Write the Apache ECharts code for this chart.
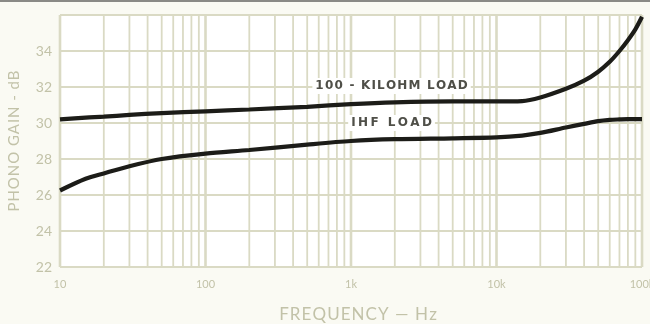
<!DOCTYPE html>
<html>
<head>
<meta charset="utf-8">
<script src="https://cdn.jsdelivr.net/npm/echarts@6/dist/echarts.min.js"></script>
<style>
  html, body { margin: 0; padding: 0; background: #fafaf3; }
  #chart { width: 650px; height: 324px; }
</style>
</head>
<body>
<div id="chart"></div>
<script>
// Frequency points (Hz) at which the response curves are sampled
const freqs = [10, 15, 20, 30, 50, 100, 200, 500, 1000, 2000, 5000, 10000, 15000, 20000, 30000, 40000, 50000, 60000, 70000, 80000, 90000, 100000];
// Phono gain (dB) into a 100-kilohm load
const gain100k = [30.2, 30.3, 30.35, 30.45, 30.55, 30.65, 30.75, 30.9, 31.05, 31.15, 31.2, 31.2, 31.22, 31.42, 31.9, 32.35, 32.85, 33.4, 34.0, 34.6, 35.2, 35.9];
// Phono gain (dB) into the IHF load
const gainIHF = [26.25, 26.9, 27.2, 27.6, 28.0, 28.3, 28.5, 28.8, 29.0, 29.1, 29.15, 29.2, 29.3, 29.45, 29.75, 29.95, 30.1, 30.17, 30.2, 30.22, 30.22, 30.22];
// Decade tick labels on the frequency axis
const freqTickLabels = { 10: '10', 100: '100', 1000: '1k', 10000: '10k', 100000: '100k' };
// Gain axis ticks
const gainTicks = [22, 24, 26, 28, 30, 32, 34];
// Curve captions
const curveNames = ['100 - KILOHM LOAD', 'IHF LOAD'];
const GAIN_MIN = 22, GAIN_MAX = 36;

const gridColor = '#dadac4';
const axisText = '#c2c2a8';

// Spread lettering by putting a narrow space between characters
const spaced = (s, sep) => Array.from(s).join(sep);
const HAIR = '\u200A', THIN = '\u2009';

// Intermediate log-grid lines (2..9 in each decade) and the decade lines
const gridSeries = [];
for (let d = 10; d <= 100000; d *= 10) {
  const marks = [[d, 2.6]];
  if (d < 100000) for (let k = 2; k <= 9; k++) marks.push([k * d, 1.8]);
  marks.forEach(([f, w]) => gridSeries.push({
    type: 'line', silent: true, z: 1, showSymbol: false, animation: false,
    data: [[f, GAIN_MIN], [f, GAIN_MAX]],
    lineStyle: { color: gridColor, width: w }
  }));
}

const pairs = (ys) => freqs.map((f, i) => [f, ys[i]]);

const captionStyle = {
  show: true, color: '#4f4f48', fontFamily: 'DejaVu Sans', fontWeight: 'bold',
  fontSize: 12, backgroundColor: '#ffffff', padding: [2, 3]
};

const chart = echarts.init(document.getElementById('chart'), null, { renderer: 'canvas' });
chart.setOption({
  backgroundColor: '#fafaf3',
  animation: false,
  grid: {
    left: 60, right: 8, top: 15, bottom: 57,
    outerBoundsMode: 'none', containLabel: false,
    show: true, backgroundColor: '#ffffff', borderWidth: 0
  },
  xAxis: {
    type: 'log', logBase: 10, min: 10, max: 100000,
    axisLine: { show: false }, axisTick: { show: false },
    splitLine: { show: false },
    axisLabel: {
      color: axisText, fontFamily: 'Lato', fontSize: 11, margin: 12,
      formatter: (v) => freqTickLabels[Math.round(v)] || ''
    },
    name: spaced('FREQUENCY \u2014 Hz', HAIR), nameLocation: 'middle', nameGap: 39,
    nameTextStyle: { color: axisText, fontFamily: 'Lato', fontSize: 17, padding: [0, 0, 0, 14] }
  },
  yAxis: {
    type: 'value', min: GAIN_MIN, max: GAIN_MAX, interval: 2,
    axisLine: { show: false }, axisTick: { show: false },
    splitLine: { show: true, lineStyle: { color: gridColor, width: 2 } },
    axisLabel: {
      color: axisText, fontFamily: 'Lato', fontSize: 14, margin: 8,
      formatter: (v) => gainTicks.includes(v) ? String(v) : ''
    },
    name: spaced('PHONO GAIN - dB', HAIR), nameLocation: 'middle', nameGap: 34,
    nameTextStyle: { color: axisText, fontFamily: 'Lato', fontSize: 15, padding: [0, 0, 4, 0] }
  },
  series: gridSeries.concat([
    {
      name: curveNames[0], type: 'line', data: pairs(gain100k), smooth: 0.3,
      showSymbol: false, lineStyle: { color: '#1c1c18', width: 4.2 }, z: 3,
      markPoint: {
        z: 4, symbol: 'rect', symbolSize: 0,
        data: [{ coord: [1900, 32.05] }],
        label: Object.assign({ formatter: spaced(curveNames[0], HAIR) }, captionStyle)
      }
    },
    {
      name: curveNames[1], type: 'line', data: pairs(gainIHF), smooth: 0.3,
      showSymbol: false, lineStyle: { color: '#1c1c18', width: 4.2 }, z: 3,
      markPoint: {
        z: 4, symbol: 'rect', symbolSize: 0,
        data: [{ coord: [1900, 30.0] }],
        label: Object.assign({ formatter: spaced(curveNames[1], THIN) }, captionStyle)
      }
    }
  ]),
  graphic: [
    { type: 'rect', left: 0, top: 0, shape: { width: 650, height: 2 }, style: { fill: '#8a8a86' } }
  ]
});
</script>
</body>
</html>
